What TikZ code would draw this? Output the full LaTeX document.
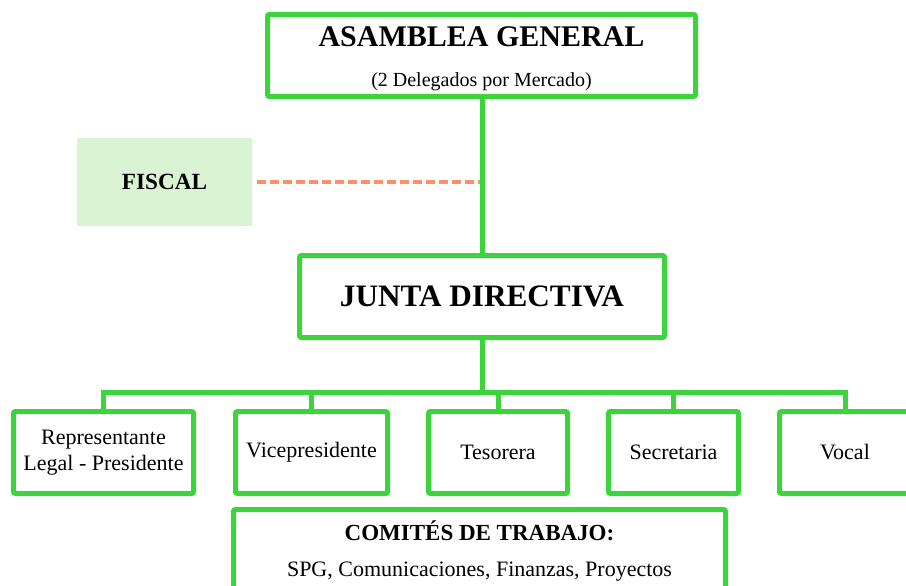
\documentclass[tikz,border=0pt]{standalone}
\usepackage{fontspec}
\setmainfont{Liberation Serif}
\definecolor{boxgreen}{RGB}{60,212,60}
\definecolor{fiscalfill}{RGB}{218,244,211}
\definecolor{dashorange}{RGB}{255,143,107}
\begin{document}
\begin{tikzpicture}[
  x=0.5pt, y=-0.5pt,
  every node/.style={align=center},
  box/.style={draw=boxgreen, line width=2.5pt, rounded corners=1pt, fill=white,
    inner sep=0pt, outer sep=0pt, minimum height=41pt, font=\fontsize{11}{13}\selectfont},
  fiscalbox/.style={fill=fiscalfill, minimum width=87.5pt, minimum height=44pt,
    inner sep=0pt, outer sep=0pt, font=\fontsize{11.6}{14}\selectfont\bfseries},
  link/.style={draw=boxgreen, line width=2.5pt},
  advice/.style={draw=dashorange, line width=2.3pt, dash pattern=on 4.5pt off 2pt}]

\useasboundingbox (0,0) rectangle (906,585);
\clip (0,0) rectangle (906,585);

% Position the nodes at fixed coordinates
\node[box, minimum width=214pt] (asamblea) at (481.5,55.5) {};
\node[inner sep=0pt, font=\fontsize{15}{18}\selectfont\bfseries] (asambleaTitle) at (481.5,37) {ASAMBLEA GENERAL};
\node[inner sep=0pt, font=\fontsize{10}{12}\selectfont] (asambleaNote) at (481.5,82) {(2 Delegados por Mercado)};
\node[fiscalbox] (fiscal) at (164.5,182) {FISCAL};
\node[box, minimum width=182.5pt, font=\fontsize{15.6}{18}\selectfont\bfseries] (junta) at (482,296.5) {JUNTA DIRECTIVA};

\node[box, minimum width=90pt] (presidente) at (103.5,452.5) {Representante\\Legal - Presidente};
\node[box, minimum width=76pt] (vice) at (311.5,452.5) {Vicepresidente};
\node[box, minimum width=69.5pt] (tesorera) at (498,452.5) {Tesorera};
\node[box, minimum width=65pt] (secretaria) at (673.5,452.5) {Secretaria};
\node[box, minimum width=65.5pt] (vocal) at (845,452.5) {Vocal};

\node[box, anchor=north, minimum width=246pt] (comites) at (479.5,509.5)
  {{\fontsize{11.5}{14}\selectfont\bfseries COMITÉS DE TRABAJO:}\\[5pt]
   SPG, Comunicaciones, Finanzas, Proyectos};

% Draw the connectors between the nodes
\draw[advice] ([xshift=2.5pt]fiscal.east) -- (fiscal.east -| junta.north);
\draw[link] (junta.north) -- (junta.north |- asamblea.south);
\coordinate (bus) at (482,392);
\draw[link] (junta.south) -- (bus);
\foreach \n in {presidente,vice,tesorera,secretaria,vocal}
  \draw[link] (\n.north) |- (bus);
\end{tikzpicture}
\end{document}
